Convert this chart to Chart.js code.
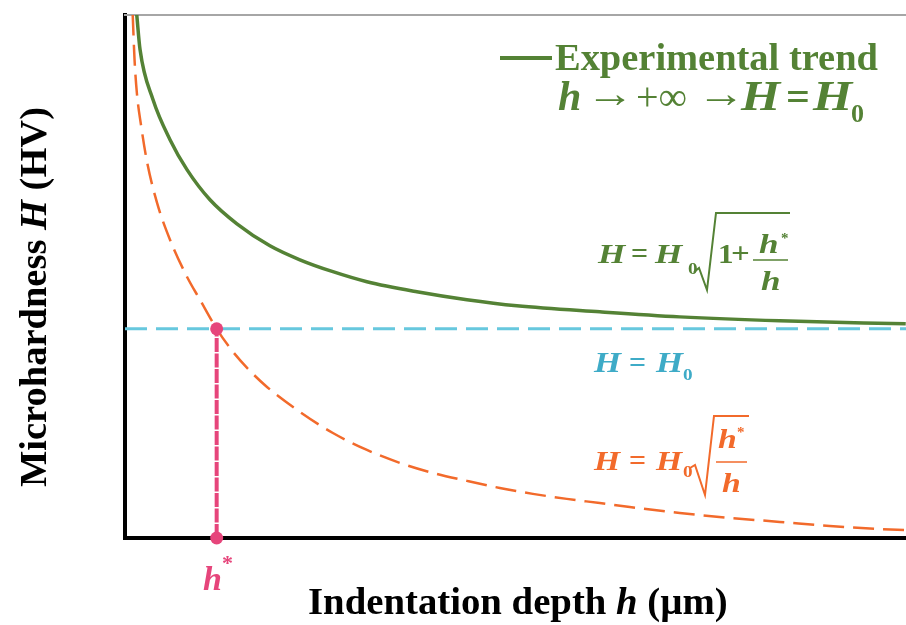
<!DOCTYPE html>
<html><head><meta charset="utf-8">
<script src="https://cdn.jsdelivr.net/npm/chart.js@4.4.0/dist/chart.umd.min.js"></script>
<style>html,body{margin:0;padding:0;background:#fff;overflow:hidden}#wrap{position:relative;width:906px;height:625px}</style>
</head><body><div id="wrap"><canvas id="c" width="906" height="625"></canvas></div>
<script>
// ---- data (h in units of h*, H in units of H0) ----
const hGreen = [0.128, 0.164, 0.305, 0.491, 0.676, 0.927, 1.221, 1.581, 1.908, 2.268, 2.639, 3.184, 3.730, 4.275, 5.180, 6.052, 7.143, 8.517];
const HGreen = [2.502, 2.335, 2.096, 1.904, 1.761, 1.617, 1.502, 1.397, 1.330, 1.273, 1.225, 1.177, 1.139, 1.110, 1.081, 1.057, 1.038, 1.024];
const hOrange = [0.084, 0.104, 0.131, 0.174, 0.240, 0.349, 0.491, 0.676, 0.818, 1.000, 1.178, 1.363, 1.549, 1.908, 2.268, 2.639, 2.999, 3.359, 3.730, 4.089, 4.449, 4.820, 5.180, 5.507, 6.052, 6.598, 7.143, 7.688, 8.233, 8.517];
const HOrange = [2.502, 2.287, 2.120, 1.976, 1.799, 1.603, 1.426, 1.249, 1.139, 1.000, 0.890, 0.799, 0.722, 0.603, 0.502, 0.421, 0.359, 0.311, 0.273, 0.239, 0.211, 0.187, 0.167, 0.148, 0.120, 0.096, 0.077, 0.057, 0.043, 0.038];
const H0 = 1.0;
const hStar = 1.0;
const hRange = [0, 8.52];
const HRange = [0, 2.5];

const GREEN = '#548235', ORANGE = '#F26A2B', CYAN_LINE = '#67C8DE', CYAN_TEXT = '#3EABC7', PINK = '#E6457B';
const SERIF = '"Liberation Serif","Times New Roman",serif';
const F = (style, size) => `${style} ${size}px ${SERIF}`;

function pts(xs, ys) { return xs.map((x, i) => ({ x: x, y: ys[i] })); }

function put(ctx, t, x, y, font, color, sx) {
  ctx.save(); ctx.font = font; ctx.fillStyle = color; ctx.translate(x, y); ctx.scale(sx || 1, 1); ctx.fillText(t, 0, 0); ctx.restore();
}
function runWidth(ctx, parts, size) {
  let w = 0; for (const p of parts) { ctx.font = F(p.s, size); w += ctx.measureText(p.t).width; } return w;
}
function drawRuns(ctx, parts, x, y, size, color) {
  for (const p of parts) { ctx.font = F(p.s, size); ctx.fillStyle = color; ctx.fillText(p.t, x, y); x += ctx.measureText(p.t).width; }
}
function poly(ctx, pts, color, w) {
  ctx.beginPath(); ctx.moveTo(pts[0][0], pts[0][1]);
  for (let i = 1; i < pts.length; i++) ctx.lineTo(pts[i][0], pts[i][1]);
  ctx.strokeStyle = color; ctx.lineWidth = w; ctx.lineJoin = 'miter'; ctx.stroke();
}

const annot = {
  id: 'annot',
  afterDraw(chart) {
    const ctx = chart.ctx;
    ctx.save();
    ctx.textAlign = 'left'; ctx.textBaseline = 'alphabetic';
    // axis titles
    const xt = [{ t: 'Indentation depth ', s: 'bold' }, { t: 'h', s: 'italic bold' }, { t: ' (µm)', s: 'bold' }];
    let size = 100 * 420 / runWidth(ctx, xt, 100);
    drawRuns(ctx, xt, 518 - 210, 614, size, '#000');
    const yt = [{ t: 'Microhardness ', s: 'bold' }, { t: 'H', s: 'italic bold' }, { t: ' (HV)', s: 'bold' }];
    size = 100 * 380 / runWidth(ctx, yt, 100);
    ctx.save(); ctx.translate(46, 487); ctx.rotate(-Math.PI / 2);
    drawRuns(ctx, yt, 0, 0, size, '#000');
    ctx.restore();

    // legend
    poly(ctx, [[500, 58], [552, 58]], GREEN, 4);
    const lt = [{ t: 'Experimental trend', s: 'bold' }];
    size = 100 * 323 / runWidth(ctx, lt, 100);
    drawRuns(ctx, lt, 555, 70, size, GREEN);
    put(ctx, 'h', 558, 110, F('italic bold', 42), GREEN);
    put(ctx, '\u2192', 586, 107, F('normal', 40), GREEN, 1.2);
    put(ctx, '+\u221E', 636, 110, F('normal', 40), GREEN);
    put(ctx, '\u2192', 697, 107, F('normal', 40), GREEN, 1.2);
    put(ctx, 'H', 741, 110, F('italic bold', 42), GREEN, 1.2);
    put(ctx, '=', 786, 110, F('bold', 42), GREEN);
    put(ctx, 'H', 813, 110, F('italic bold', 42), GREEN, 1.2);
    put(ctx, '0', 851, 122, F('bold', 26), GREEN);

    // H = H0 sqrt(1 + h*/h)
    const gs = 1.3;
    put(ctx, 'H', 598, 263, F('italic bold', 27), GREEN, gs);
    put(ctx, '=', 631, 263, F('bold', 30), GREEN);
    put(ctx, 'H', 655, 263, F('italic bold', 27), GREEN, gs);
    put(ctx, '0', 688, 274, F('bold', 16), GREEN, 1.2);
    poly(ctx, [[694, 272], [699, 268], [707, 290], [716, 213], [790, 213]], GREEN, 2);
    put(ctx, '1', 718, 263, F('bold', 27), GREEN, 1.15);
    put(ctx, '+', 731, 263, F('bold', 30), GREEN, 1.1);
    poly(ctx, [[753, 260], [788, 260]], GREEN, 1.5);
    put(ctx, 'h', 759, 253, F('italic bold', 27), GREEN, gs);
    put(ctx, '*', 781, 243, F('bold', 15), GREEN);
    put(ctx, 'h', 761, 290, F('italic bold', 27), GREEN, gs);

    // H = H0
    put(ctx, 'H', 594, 372, F('italic bold', 29), CYAN_TEXT, 1.2);
    put(ctx, '=', 629, 372, F('bold', 30), CYAN_TEXT);
    put(ctx, 'H', 656, 372, F('italic bold', 29), CYAN_TEXT, 1.2);
    put(ctx, '0', 683, 380, F('bold', 16), CYAN_TEXT, 1.2);

    // H = H0 sqrt(h*/h)
    put(ctx, 'H', 594, 470, F('italic bold', 28), ORANGE, 1.2);
    put(ctx, '=', 629, 470, F('bold', 30), ORANGE);
    put(ctx, 'H', 656, 470, F('italic bold', 28), ORANGE, 1.2);
    put(ctx, '0', 683, 477, F('bold', 16), ORANGE, 1.2);
    poly(ctx, [[690, 468], [695, 465], [705, 495], [714, 416], [749, 416]], ORANGE, 2);
    poly(ctx, [[716, 462], [747, 462]], ORANGE, 1.5);
    put(ctx, 'h', 718, 448, F('italic bold', 27), ORANGE, 1.25);
    put(ctx, '*', 737, 437, F('bold', 15), ORANGE);
    put(ctx, 'h', 722, 492, F('italic bold', 27), ORANGE, 1.25);

    // h* label
    put(ctx, 'h', 203, 590, F('italic bold', 34), PINK);
    put(ctx, '*', 222, 570, F('bold', 22), PINK);
    ctx.restore();
  }
};

new Chart(document.getElementById('c'), {
  type: 'scatter',
  data: {
    datasets: [
      { label: 'h*', data: [{ x: hStar, y: 0 }, { x: hStar, y: H0 }], showLine: true, borderColor: PINK, backgroundColor: PINK,
        borderWidth: 4, borderDash: [14, 1.5], pointRadius: 6.5, pointHoverRadius: 6.5, pointBorderWidth: 0, clip: false },
      { label: 'Experimental trend', data: pts(hGreen, HGreen), showLine: true, borderColor: GREEN, borderWidth: 3.5,
        pointRadius: 0, cubicInterpolationMode: 'monotone' },
      { label: 'H = H0', data: [{ x: hRange[0], y: H0 }, { x: hRange[1], y: H0 }], showLine: true, borderColor: CYAN_LINE,
        borderWidth: 3, borderDash: [22, 9], pointRadius: 0 },
      { label: 'H = H0 sqrt(h*/h)', data: pts(hOrange, HOrange), showLine: true, borderColor: ORANGE, borderWidth: 2.5,
        borderDash: [21, 9], pointRadius: 0, cubicInterpolationMode: 'monotone' }
    ]
  },
  options: {
    responsive: false, animation: false, events: [],
    layout: { autoPadding: false, padding: { left: 125, top: 15, right: 0, bottom: 87 } },
    plugins: { legend: { display: false }, tooltip: { enabled: false } },
    scales: {
      x: { type: 'linear', min: hRange[0], max: hRange[1], ticks: { display: false }, grid: { display: false, drawTicks: false },
           border: { display: true, color: '#000', width: 4 } },
      y: { type: 'linear', min: HRange[0], max: HRange[1], ticks: { display: false }, grid: { display: false, drawTicks: false },
           border: { display: true, color: '#000', width: 4 } },
      xTop: { type: 'linear', position: 'top', min: hRange[0], max: hRange[1], ticks: { display: false },
              grid: { display: false, drawTicks: false }, border: { display: true, color: '#A6A6A6', width: 2 } }
    }
  },
  plugins: [annot]
});
</script>
</body></html>
